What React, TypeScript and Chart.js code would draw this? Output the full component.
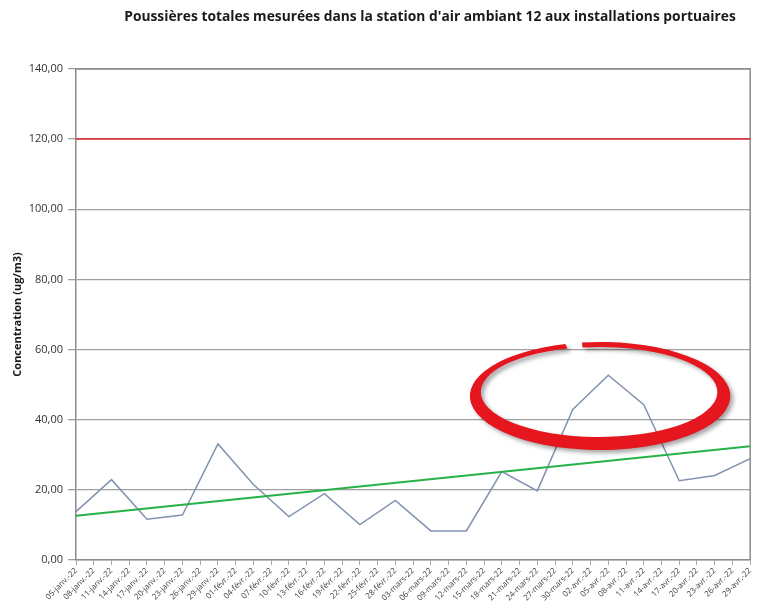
import { useEffect, useRef } from 'react';
import { Chart, registerables } from 'chart.js';

Chart.register(...registerables);

const chartTitle = "Poussières totales mesurées dans la station d'air ambiant 12 aux installations portuaires";
const yAxisTitle = 'Concentration (ug/m3)';

const dateLabels = [
  '05-janv.-22', '08-janv.-22', '11-janv.-22', '14-janv.-22', '17-janv.-22', '20-janv.-22', '23-janv.-22', '26-janv.-22', '29-janv.-22',
  '01-févr.-22', '04-févr.-22', '07-févr.-22', '10-févr.-22', '13-févr.-22', '16-févr.-22', '19-févr.-22', '22-févr.-22', '25-févr.-22', '28-févr.-22',
  '03-mars-22', '06-mars-22', '09-mars-22', '12-mars-22', '15-mars-22', '18-mars-22', '21-mars-22', '24-mars-22', '27-mars-22', '30-mars-22',
  '02-avr.-22', '05-avr.-22', '08-avr.-22', '11-avr.-22', '14-avr.-22', '17-avr.-22', '20-avr.-22', '23-avr.-22', '26-avr.-22', '29-avr.-22',
];

// measurements every 6 days (every second label), from 05-janv.-22 to 29-avr.-22
const measured = [13.8, 22.9, 11.6, 12.8, 33.1, 21.5, 12.4, 18.9, 10.1, 17.0, 8.3, 8.3, 25.2, 19.7, 42.9, 52.7, 44.3, 22.6, 24.1, 28.9];

// linear trend: value at first and last date
const trendEnds = [12.6, 32.4];

// regulatory limit
const limitValue = 120;

const yTicks = { min: 0, max: 140, step: 20 };

// hand-drawn highlight (category index / value units)
const highlightOuter = { x: 29.54, y: 46.75, rx: 7.34, ry: 15.4 };
const highlightInner = { x: 29.48, y: 47.9, rx: 6.67, ry: 12.83 };

const measuredSeries = dateLabels.map((_, i) => (i % 2 === 0 ? measured[i / 2] : null));
const trendSeries = dateLabels.map((_, i) => (i === 0 ? trendEnds[0] : i === dateLabels.length - 1 ? trendEnds[1] : null));
const limitSeries = dateLabels.map(() => limitValue);

const FONT = "'Open Sans', 'DejaVu Sans', sans-serif";

const titleShift = {
  id: 'titleShift',
  afterLayout(chart: any) {
    const t = chart.titleBlock;
    if (t) t.left = 106;
  },
};

const areaBorder = {
  id: 'areaBorder',
  beforeDatasetsDraw(chart: any) {
    const { ctx, chartArea } = chart;
    ctx.save();
    ctx.strokeStyle = '#8c8c8c';
    ctx.lineWidth = 1.5;
    ctx.beginPath();
    ctx.moveTo(chartArea.left, chartArea.top);
    ctx.lineTo(chartArea.right, chartArea.top);
    ctx.lineTo(chartArea.right, chartArea.bottom);
    ctx.stroke();
    ctx.restore();
  },
};

const highlight = {
  id: 'highlight',
  afterDraw(chart: any) {
    const { ctx } = chart;
    const xs = chart.scales.x;
    const ys = chart.scales.y;
    const px = (e: any) => ({
      cx: xs.getPixelForValue(e.x),
      cy: ys.getPixelForValue(e.y),
      rx: Math.abs(xs.getPixelForValue(e.x + e.rx) - xs.getPixelForValue(e.x)),
      ry: Math.abs(ys.getPixelForValue(e.y + e.ry) - ys.getPixelForValue(e.y)),
    });
    const o = px(highlightOuter);
    const n = px(highlightInner);
    const a1 = -Math.PI / 2 - 0.14;
    const a2 = -Math.PI / 2 - 0.27 + Math.PI * 2;
    ctx.save();
    ctx.shadowColor = 'rgba(0,0,0,0.35)';
    ctx.shadowBlur = 4;
    ctx.shadowOffsetX = 3;
    ctx.shadowOffsetY = 3;
    ctx.fillStyle = '#e5161d';
    ctx.beginPath();
    ctx.ellipse(o.cx, o.cy, o.rx, o.ry, 0, a1, a2, false);
    ctx.ellipse(n.cx, n.cy, n.rx, n.ry, 0, a2, a1, true);
    ctx.closePath();
    ctx.fill();
    ctx.restore();
  },
};

export default function App() {
  const ref = useRef<HTMLCanvasElement | null>(null);

  useEffect(() => {
    if (!ref.current) return;
    const chart = new Chart(ref.current, {
      type: 'line',
      data: {
        labels: dateLabels,
        datasets: [
          {
            label: 'Limite',
            data: limitSeries,
            borderColor: '#e0262d',
            borderWidth: 1.5,
            pointRadius: 0,
            fill: false,
          },
          {
            label: 'Tendance',
            data: trendSeries,
            borderColor: '#27b14a',
            borderWidth: 2,
            pointRadius: 0,
            spanGaps: true,
            fill: false,
          },
          {
            label: 'Poussières totales',
            data: measuredSeries,
            borderColor: '#8193ae',
            borderWidth: 1.5,
            pointRadius: 0,
            spanGaps: true,
            tension: 0,
            fill: false,
          },
        ],
      },
      options: {
        responsive: false,
        animation: false,
        layout: { padding: { left: 0, right: 4, top: 0, bottom: 0 } },
        plugins: {
          legend: { display: false },
          tooltip: { enabled: false },
          title: {
            display: true,
            text: chartTitle,
            color: '#1a1a1a',
            font: { family: FONT, size: 13.8, weight: 'bold' },
            padding: { top: 9, bottom: 43.4 },
          },
        },
        scales: {
          x: {
            offset: false,
            afterFit: (s: any) => { s.height = 46; },
            grid: { drawOnChartArea: false, drawTicks: true, tickLength: 5, color: '#a6a6a6' },
            border: { display: true, color: '#8c8c8c', width: 1.5 },
            ticks: {
              autoSkip: false,
              maxRotation: 45,
              minRotation: 45,
              padding: 1,
              color: '#404040',
              font: { family: FONT, size: 8 },
            },
          },
          y: {
            min: yTicks.min,
            max: yTicks.max,
            afterFit: (s: any) => { s.width = 76; },
            grid: { color: '#a0a0a0', lineWidth: 1.3, tickLength: 8, tickColor: '#a0a0a0' },
            border: { display: true, color: '#8c8c8c', width: 1.5 },
            ticks: {
              stepSize: yTicks.step,
              padding: 5,
              color: '#333333',
              font: { family: FONT, size: 11 },
              callback: (v: any) => Number(v).toFixed(2).replace('.', ','),
            },
            title: {
              display: true,
              text: yAxisTitle,
              color: '#1a1a1a',
              font: { family: FONT, size: 11, weight: 'bold' },
              padding: { top: 11, bottom: 0 },
            },
          },
        },
      },
      plugins: [titleShift, areaBorder, highlight],
    });
    return () => chart.destroy();
  }, []);

  return (
    <div style={{ position: 'absolute', left: 0, top: 0, width: 758, height: 606, background: '#fff' }}>
      <canvas ref={ref} width={758} height={606} style={{ width: 758, height: 606, display: 'block' }} />
    </div>
  );
}
